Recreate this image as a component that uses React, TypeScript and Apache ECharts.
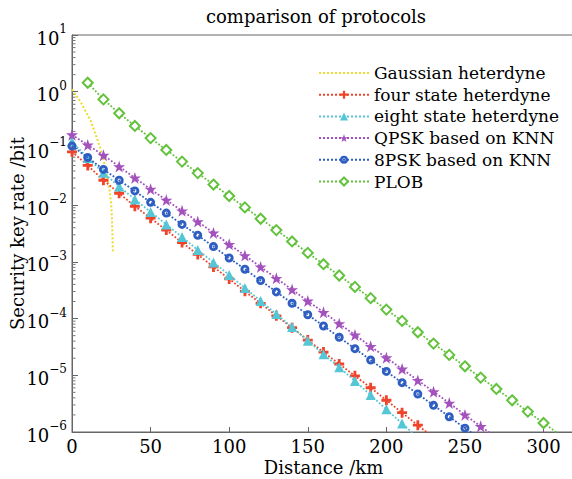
import React, { useEffect, useRef } from "react";
import * as echarts from "echarts";

const FONT = "'DejaVu Serif', 'Liberation Serif', serif";

const seriesNames = [
  "Gaussian heterdyne",
  "four state heterdyne",
  "eight state heterdyne",
  "QPSK based on KNN",
  "8PSK based on KNN",
  "PLOB",
];

const colors = ["#ebdc2e", "#f0442a", "#55c6d6", "#a352bd", "#2f5ec2", "#63c23c"];

// Gaussian heterodyne: distance (km) and key rate
const gaussDist = [0, 2, 4, 6, 8, 10, 12, 14, 16, 18, 20, 22, 24, 25, 25.5, 26];
const gaussRate = [1.1, 0.91, 0.76, 0.62, 0.49, 0.39, 0.3, 0.214, 0.148, 0.1, 0.063, 0.0355, 0.0178, 0.01, 0.005, 0.0015];

// distances for marked series (km)
const dist = [0, 10, 20, 30, 40, 50, 60, 70, 80, 90, 100, 110, 120, 130, 140, 150, 160, 170, 180, 190, 200, 210, 220, 230, 240, 250, 260, 270];
const plobDist = [10, 20, 30, 40, 50, 60, 70, 80, 90, 100, 110, 120, 130, 140, 150, 160, 170, 180, 190, 200, 210, 220, 230, 240, 250, 260, 270, 280, 290, 300, 310];

const fourState = [8.71e-2, 5.01e-2, 2.75e-2, 1.62e-2, 9.55e-3, 5.89e-3, 3.63e-3, 2.19e-3, 1.35e-3, 8.13e-4, 5.01e-4, 3.02e-4, 1.86e-4, 1.12e-4, 6.92e-5, 4.17e-5, 2.57e-5, 1.58e-5, 9.77e-6, 6.03e-6, 3.63e-6, 2.19e-6, 1.32e-6, 7.94e-7];
const eightState = [1.32e-1, 6.76e-2, 3.72e-2, 2.14e-2, 1.26e-2, 7.59e-3, 4.57e-3, 2.75e-3, 1.62e-3, 9.77e-4, 5.89e-4, 3.47e-4, 2.04e-4, 1.2e-4, 7.08e-5, 4.07e-5, 2.34e-5, 1.38e-5, 7.94e-6, 4.47e-6, 2.51e-6, 1.41e-6, 7.94e-7];
const qpskKnn = [1.74e-1, 1.15e-1, 7.59e-2, 4.79e-2, 3.02e-2, 1.91e-2, 1.23e-2, 7.94e-3, 5.13e-3, 3.24e-3, 2.04e-3, 1.29e-3, 8.13e-4, 5.13e-4, 3.24e-4, 2.04e-4, 1.29e-4, 8.13e-5, 5.13e-5, 3.24e-5, 2.04e-5, 1.29e-5, 8.13e-6, 5.13e-6, 3.24e-6, 2.0e-6, 1.26e-6, 7.94e-7];
const psk8Knn = [1.1e-1, 6.92e-2, 4.27e-2, 2.75e-2, 1.78e-2, 1.12e-2, 7.24e-3, 4.57e-3, 2.95e-3, 1.86e-3, 1.17e-3, 7.41e-4, 4.68e-4, 2.95e-4, 1.86e-4, 1.17e-4, 7.41e-5, 4.68e-5, 2.95e-5, 1.86e-5, 1.17e-5, 7.41e-6, 4.68e-6, 2.95e-6, 1.86e-6, 1.17e-6, 7.41e-7];
const plob = [1.438, 0.7325, 0.4173, 0.249, 0.152, 0.094, 0.0586, 0.0367, 0.02305, 0.0145, 9.13e-3, 5.76e-3, 3.63e-3, 2.29e-3, 1.44e-3, 9.1e-4, 5.75e-4, 3.62e-4, 2.29e-4, 1.44e-4, 9.1e-5, 5.74e-5, 3.62e-5, 2.29e-5, 1.44e-5, 9.1e-6, 5.74e-6, 3.62e-6, 2.29e-6, 1.44e-6, 9.1e-7];

const xTicks = [0, 50, 100, 150, 200, 250, 300];

const zip = (xs: number[], ys: number[]) => ys.map((y, i) => [xs[i], y]);

const PLUS = "path://M36,0H64V36H100V64H64V100H36V64H0V36H36Z";
const STAR = "path://M50,0 L61.8,35.3 L98.5,35.3 L68.8,57.1 L80.1,92.4 L50,70.6 L19.9,92.4 L31.2,57.1 L1.5,35.3 L38.2,35.3 Z";
const RING = "path://M50,0 A50,50 0 1,1 50,100 A50,50 0 1,1 50,0 Z M50,32 A18,18 0 1,0 50,68 A18,18 0 1,0 50,32 Z";

export default function App() {
  const ref = useRef<HTMLDivElement>(null);
  useEffect(() => {
    if (!ref.current) return;
    const chart = echarts.init(ref.current, undefined, { renderer: "svg" });

    const minorTicks: number[][] = [];
    for (let k = -6; k < 1; k++) {
      for (let m = 2; m <= 9; m++) minorTicks.push([0, m * Math.pow(10, k)]);
    }

    const lineBase = (i: number) => ({
      type: "line" as const,
      name: seriesNames[i],
      color: colors[i],
      lineStyle: { type: "dotted" as const, width: 1.8, color: colors[i] },
      itemStyle: { color: colors[i] },
      clip: true,
      z: 3 + i,
    });

    chart.setOption({
      animation: false,
      backgroundColor: "#ffffff",
      textStyle: { fontFamily: FONT },
      title: {
        text: "comparison of protocols",
        left: 311,
        top: 2,
        textAlign: "center",
        textStyle: { fontFamily: FONT, fontSize: 18, fontWeight: "normal", color: "#000" },
      },
      legend: {
        orient: "vertical",
        left: 318,
        top: 64,
        padding: 0,
        itemWidth: 50,
        itemHeight: 10,
        itemGap: 3.7,
        data: [
          { name: seriesNames[0], itemStyle: { opacity: 0 } },
          seriesNames[1],
          seriesNames[2],
          seriesNames[3],
          seriesNames[4],
          seriesNames[5],
        ],
        textStyle: { fontFamily: FONT, fontSize: 17, color: "#000", lineHeight: 18 },
      },
      grid: {
        left: 72,
        top: 35,
        width: 503,
        height: 397,
        containLabel: false,
        outerBoundsMode: "none",
        show: true,
        borderColor: "#666",
        borderWidth: 1,
        backgroundColor: "transparent",
      },
      xAxis: {
        type: "value",
        min: 0,
        max: 320,
        interval: 50,
        name: "Distance /km",
        nameLocation: "middle",
        nameGap: 26,
        nameMoveOverlap: false,
        nameTextStyle: { fontFamily: FONT, fontSize: 18, color: "#000" },
        axisLine: { show: true, lineStyle: { color: "#666", width: 1 } },
        axisTick: { show: true, inside: true, length: 5, lineStyle: { color: "#666" } },
        axisLabel: {
          fontFamily: FONT,
          fontSize: 18,
          color: "#000",
          margin: 5,
          showMaxLabel: false,
          formatter: (v: number) => (xTicks.includes(v) ? String(v) : ""),
        },
        splitLine: { show: false },
      },
      yAxis: {
        type: "log",
        min: 1e-6,
        max: 10,
        logBase: 10,
        name: "Security key rate /bit",
        nameLocation: "middle",
        nameGap: 46,
        nameMoveOverlap: false,
        nameTextStyle: { fontFamily: FONT, fontSize: 18, color: "#000" },
        axisLine: { show: true, lineStyle: { color: "#666", width: 1 } },
        axisTick: { show: true, inside: true, length: 6, lineStyle: { color: "#666" } },
        axisLabel: {
          margin: 5,
          formatter: (v: number) => {
            const e = Math.round(Math.log10(v));
            const s = e < 0 ? "\u2212" + Math.abs(e) : String(e);
            return `{b|10}{s|${s}}`;
          },
          rich: {
            b: { fontFamily: FONT, fontSize: 18, color: "#000", lineHeight: 24, verticalAlign: "bottom" },
            s: { fontFamily: FONT, fontSize: 12, color: "#000", lineHeight: 12, verticalAlign: "top" },
          },
        },
        splitLine: { show: false },
      },
      series: [
        {
          ...lineBase(0),
          lineStyle: { type: "dotted" as const, width: 2, color: colors[0] },
          data: zip(gaussDist, gaussRate),
          showSymbol: false,
          symbol: "none",
        },
        {
          ...lineBase(1),
          data: zip(dist, fourState),
          symbol: PLUS,
          symbolSize: 10,
        },
        {
          ...lineBase(2),
          data: zip(dist, eightState),
          symbol: "triangle",
          symbolSize: 10,
        },
        {
          ...lineBase(3),
          data: zip(dist, qpskKnn),
          symbol: STAR,
          symbolSize: 12,
        },
        {
          ...lineBase(4),
          data: zip(dist, psk8Knn),
          symbol: RING,
          symbolSize: 9,
        },
        {
          ...lineBase(5),
          data: zip(plobDist, plob),
          symbol: "emptyDiamond",
          symbolSize: 10,
          itemStyle: { color: colors[5], borderColor: colors[5], borderWidth: 2.2 },
        },
        {
          type: "custom",
          name: "minorTicks",
          silent: true,
          data: minorTicks,
          z: 1,
          renderItem: (_p: any, api: any) => {
            const p = api.coord([0, api.value(1)]);
            return {
              type: "line",
              shape: { x1: p[0], y1: p[1], x2: p[0] + 3.5, y2: p[1] },
              style: { stroke: "#777", lineWidth: 1 },
            };
          },
        },
      ],
    });
    return () => chart.dispose();
  }, []);
  return (
    <div
      ref={ref}
      style={{ position: "fixed", left: 0, top: 0, width: 572, height: 479, background: "#fff" }}
    />
  );
}
